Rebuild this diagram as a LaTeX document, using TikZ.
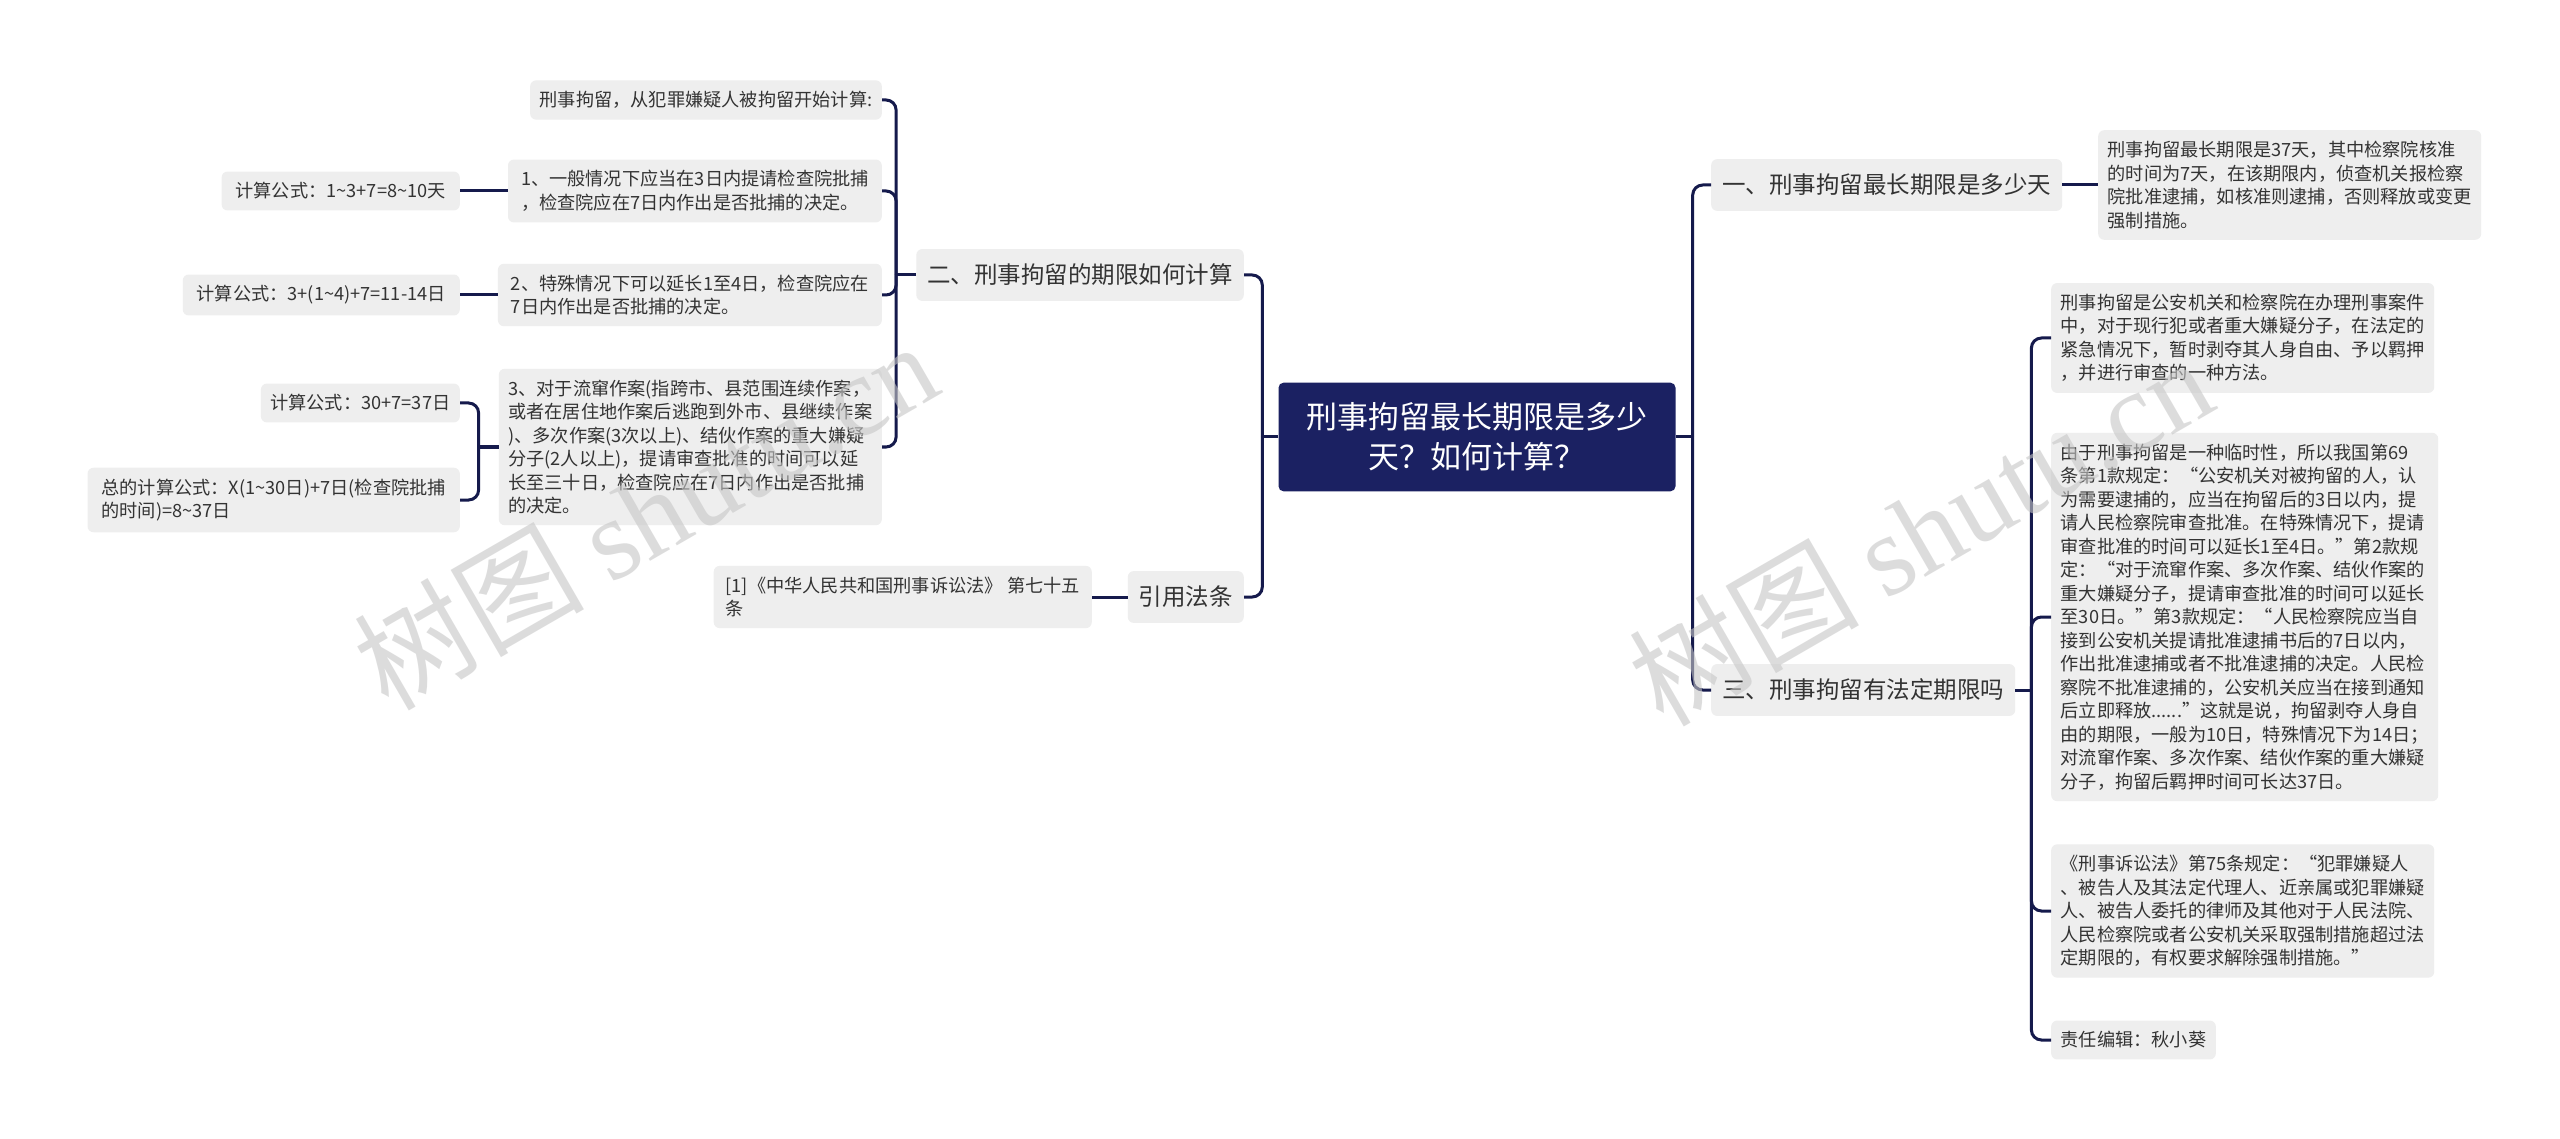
\documentclass[tikz,border=0pt]{standalone}
\usepackage{fontspec}
\setmainfont{Noto Sans CJK SC}
\newfontfamily\wmlatin{Liberation Serif}
\usepackage{tikz}
\usetikzlibrary{calc}

\definecolor{rootnavy}{HTML}{1B2162}
\definecolor{linknavy}{HTML}{151A4C}
\definecolor{boxgray}{HTML}{EEEEEE}
\definecolor{inkgray}{HTML}{333333}
\newcommand{\tld}{\textasciitilde}

\tikzset{
  rootbox/.style={fill=rootnavy, text=white, rounded corners=5pt, align=center, inner xsep=28pt, inner ysep=20pt, font=\fontsize{31}{40}\selectfont},
  topicbox/.style={fill=boxgray, text=inkgray, rounded corners=6pt, inner xsep=11pt, inner ysep=15pt, font=\fontsize{23.5}{28}\selectfont},
  leafbox/.style={fill=boxgray, text=inkgray, rounded corners=6pt, align=left, inner xsep=9.5pt, inner ysep=11pt, font=\fontsize{18.2}{23.5}\selectfont},
  link/.style={draw=linknavy, line width=3pt, rounded corners=10pt},
  watermark/.style={text=gray!45, opacity=0.6, rotate=30, font=\fontsize{115}{115}\selectfont}
}

\begin{document}
\begin{tikzpicture}[x=1pt, y=-1pt]
\fill[white] (0,0) rectangle (2560,1139);
\useasboundingbox (0,0) rectangle (2560,1139);

% centre
\node (root) at (1477, 437) [rootbox] {刑事拘留最长期限是多少\\天？如何计算？};

% right side
\node (one) at (1711, 185) [topicbox, anchor=west] {一、刑事拘留最长期限是多少天};
\node (oneT) at (2098, 185) [leafbox, anchor=west] {刑事拘留最长期限是37天，其中检察院核准\\的时间为7天，在该期限内，侦查机关报检察\\院批准逮捕，如核准则逮捕，否则释放或变更\\强制措施。};
\node (three) at (1711, 690) [topicbox, anchor=west] {三、刑事拘留有法定期限吗};
\node (thA) at (2051, 338) [leafbox, anchor=west] {刑事拘留是公安机关和检察院在办理刑事案件\\中，对于现行犯或者重大嫌疑分子，在法定的\\紧急情况下，暂时剥夺其人身自由、予以羁押\\，并进行审查的一种方法。};
\node (thB) at (2051, 617) [leafbox, anchor=west] {由于刑事拘留是一种临时性，所以我国第69\\条第1款规定：“公安机关对被拘留的人，认\\为需要逮捕的，应当在拘留后的3日以内，提\\请人民检察院审查批准。在特殊情况下，提请\\审查批准的时间可以延长1至4日。”第2款规\\定：“对于流窜作案、多次作案、结伙作案的\\重大嫌疑分子，提请审查批准的时间可以延长\\至30日。”第3款规定：“人民检察院应当自\\接到公安机关提请批准逮捕书后的7日以内，\\作出批准逮捕或者不批准逮捕的决定。人民检\\察院不批准逮捕的，公安机关应当在接到通知\\后立即释放......”这就是说，拘留剥夺人身自\\由的期限，一般为10日，特殊情况下为14日；\\对流窜作案、多次作案、结伙作案的重大嫌疑\\分子，拘留后羁押时间可长达37日。};
\node (thC) at (2051, 911) [leafbox, anchor=west] {《刑事诉讼法》第75条规定：“犯罪嫌疑人\\、被告人及其法定代理人、近亲属或犯罪嫌疑\\人、被告人委托的律师及其他对于人民法院、\\人民检察院或者公安机关采取强制措施超过法\\定期限的，有权要求解除强制措施。”};
\node (thD) at (2051, 1040) [leafbox, anchor=west] {责任编辑：秋小葵};

% left side
\node (two) at (1244, 275) [topicbox, anchor=east] {二、刑事拘留的期限如何计算};
\node (c1) at (882, 100) [leafbox, anchor=east] {刑事拘留，从犯罪嫌疑人被拘留开始计算:};
\node (c2) at (882, 191) [leafbox, anchor=east, inner xsep=13pt] {1、一般情况下应当在3日内提请检查院批捕\\，检查院应在7日内作出是否批捕的决定。};
\node (c3) at (882, 295) [leafbox, anchor=east, inner xsep=13pt] {2、特殊情况下可以延长1至4日，检查院应在\\7日内作出是否批捕的决定。};
\node (c4) at (882, 447) [leafbox, anchor=east] {3、对于流窜作案(指跨市、县范围连续作案，\\或者在居住地作案后逃跑到外市、县继续作案\\)、多次作案(3次以上)、结伙作案的重大嫌疑\\分子(2人以上)，提请审查批准的时间可以延\\长至三十日，检查院应在7日内作出是否批捕\\的决定。};
\node (f1) at (460, 191) [leafbox, anchor=east, inner xsep=14pt] {计算公式：1\tld3+7=8\tld10天};
\node (f2) at (460, 295) [leafbox, anchor=east, inner xsep=14pt] {计算公式：3+(1\tld4)+7=11-14日};
\node (f3) at (460, 403) [leafbox, anchor=east] {计算公式：30+7=37日};
\node (f4) at (460, 500) [leafbox, anchor=east, inner xsep=14pt] {总的计算公式：X(1\tld30日)+7日(检查院批捕\\的时间)=8\tld37日};
\node (cite) at (1244, 597) [topicbox, anchor=east] {引用法条};
\node (citeT) at (1092, 597) [leafbox, anchor=east, inner xsep=12pt] {[1]《中华人民共和国刑事诉讼法》 第七十五\\条};

% connectors
\draw[link] (root.west) -- ++(-16,0) coordinate (lj);
\draw[link] (lj) |- (two.east);
\draw[link] (lj) |- (cite.east);
\draw[link] (root.east) -- ++(17,0) coordinate (rj);
\draw[link] (rj) |- (one.west);
\draw[link] (rj) |- (three.west);
\draw[link] (one.east) -- (oneT.west);
\draw[link] (three.east) -- ++(16,0) coordinate (tj);
\draw[link] (tj) |- (thA.west);
\draw[link] (tj) |- (thB.west);
\draw[link] (tj) |- (thC.west);
\draw[link] (tj) |- (thD.west);
\draw[link] (two.west) -- ++(-20,0) coordinate (twj);
\draw[link] (twj) |- (c1.east);
\draw[link] (twj) |- (c2.east);
\draw[link] (twj) |- (c3.east);
\draw[link] (twj) |- (c4.east);
\draw[link] (c2.west) -- (f1.east);
\draw[link] (c3.west) -- (f2.east);
\draw[link] (c4.west) -- ++(-20,0) coordinate (cj);
\draw[link] (cj) |- (f3.east);
\draw[link] (cj) |- (f4.east);
\draw[link] (cite.west) -- (citeT.east);

% watermarks
\node (wmL) at (645, 514) [watermark] {树图 {\wmlatin shutu.cn}};
\node (wmR) at (1920, 530) [watermark] {树图 {\wmlatin shutu.cn}};
\end{tikzpicture}
\end{document}
